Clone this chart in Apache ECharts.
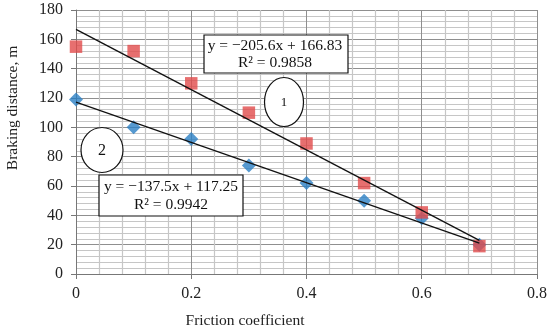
<!DOCTYPE html>
<html>
<head>
<meta charset="utf-8">
<script src="https://cdn.jsdelivr.net/npm/echarts@6/dist/echarts.min.js"></script>
<style>html,body{margin:0;padding:0;background:#fff}#c{width:550px;height:332px}</style>
</head>
<body>
<div id="c"></div>
<script>
var frictionX = [0, 0.1, 0.2, 0.3, 0.4, 0.5, 0.6, 0.7];
var series1 = [155, 152, 130, 110, 89, 62, 42, 19];
var series2 = [119, 100, 92, 74, 62, 50, 38, 20];
var trend1 = [[0, 166.83], [0.7, 22.91]];
var trend2 = [[0, 117.25], [0.7, 21.0]];
var eq1 = ['y = \u2212205.6x + 166.83', 'R\u00b2 = 0.9858'];
var eq2 = ['y = \u2212137.5x + 117.25', 'R\u00b2 = 0.9942'];
var curveLabels = ['1', '2'];
var xTitle = 'Friction coefficient';
var yTitle = 'Braking distance, m';

var FONT = '"Liberation Serif", "Times New Roman", serif';
var chart = echarts.init(document.getElementById('c'));
function pts(xs, ys) { return xs.map(function (x, i) { return [x, ys[i]]; }); }
chart.setOption({
  animation: false,
  backgroundColor: '#fff',
  grid: { left: 76, right: 13, top: 10, bottom: 58, containLabel: false, outerBoundsMode: 'none' },
  xAxis: {
    type: 'value', min: 0, max: 0.8, interval: 0.2,
    axisLine: { show: true, lineStyle: { color: '#777', width: 1 } },
    axisTick: { show: true, length: 5, lineStyle: { color: '#777' } },
    axisLabel: { fontFamily: FONT, fontSize: 16, color: '#222', margin: 12 },
    splitLine: { show: true, lineStyle: { color: '#8f8f8f', width: 1 } },
    minorTick: { show: false, splitNumber: 5 },
    minorSplitLine: { show: true, lineStyle: { color: '#c6c6c6', width: 1.2 } }
  },
  yAxis: {
    type: 'value', min: 0, max: 180, interval: 20,
    axisLine: { show: true, lineStyle: { color: '#777', width: 1 } },
    axisTick: { show: true, length: 5, lineStyle: { color: '#777' } },
    axisLabel: { fontFamily: FONT, fontSize: 16, color: '#222', margin: 13 },
    splitLine: { show: true, lineStyle: { color: '#8f8f8f', width: 1 } },
    minorTick: { show: false, splitNumber: 5 },
    minorSplitLine: { show: true, lineStyle: { color: '#c6c6c6', width: 1.2 } }
  },
  series: [
    { type: 'scatter', data: pts(frictionX, series2), symbol: 'diamond', symbolSize: 14,
      itemStyle: { color: '#2a7fc4' }, z: 3 },
    { type: 'scatter', data: pts(frictionX, series1), symbol: 'rect', symbolSize: 12.5,
      itemStyle: { color: '#e14b4b' }, z: 4 },
    { type: 'line', data: trend1, showSymbol: false, symbol: 'none',
      lineStyle: { color: '#111', width: 1.3 }, z: 5 },
    { type: 'line', data: trend2, showSymbol: false, symbol: 'none',
      lineStyle: { color: '#111', width: 1.3 }, z: 5 }
  ],
  graphic: [
    { type: 'text', x: 245, y: 321, z: 11,
      style: { text: xTitle, font: '15.5px ' + FONT, fill: '#222', align: 'center', verticalAlign: 'middle' } },
    { type: 'text', x: 13, y: 108, rotation: Math.PI / 2, z: 11,
      style: { text: yTitle, font: '15.5px ' + FONT, fill: '#222', align: 'center', verticalAlign: 'middle' } },
    { type: 'rect', shape: { x: 204, y: 35, width: 144, height: 38 },
      style: { fill: '#fff', stroke: '#111', lineWidth: 1.2 }, z: 10 },
    { type: 'text', x: 275, y: 54, z: 11,
      style: { text: eq1.join('\n'), font: '15.5px ' + FONT, fill: '#111', align: 'center', verticalAlign: 'middle', lineHeight: 17 } },
    { type: 'rect', shape: { x: 99, y: 175, width: 144, height: 41 },
      style: { fill: '#fff', stroke: '#111', lineWidth: 1.2 }, z: 10 },
    { type: 'text', x: 171, y: 196, z: 11,
      style: { text: eq2.join('\n'), font: '15.5px ' + FONT, fill: '#111', align: 'center', verticalAlign: 'middle', lineHeight: 18 } },
    { type: 'ellipse', shape: { cx: 284, cy: 102, rx: 19.5, ry: 24.5 },
      style: { fill: '#fff', stroke: '#111', lineWidth: 1.2 }, z: 10 },
    { type: 'text', x: 284, y: 103, z: 11,
      style: { text: curveLabels[0], font: '13px ' + FONT, fill: '#111', align: 'center', verticalAlign: 'middle' } },
    { type: 'ellipse', shape: { cx: 102, cy: 150, rx: 21, ry: 22.5 },
      style: { fill: '#fff', stroke: '#111', lineWidth: 1.2 }, z: 10 },
    { type: 'text', x: 102, y: 151, z: 11,
      style: { text: curveLabels[1], font: '16px ' + FONT, fill: '#111', align: 'center', verticalAlign: 'middle' } }
  ]
});
</script>
</body>
</html>
